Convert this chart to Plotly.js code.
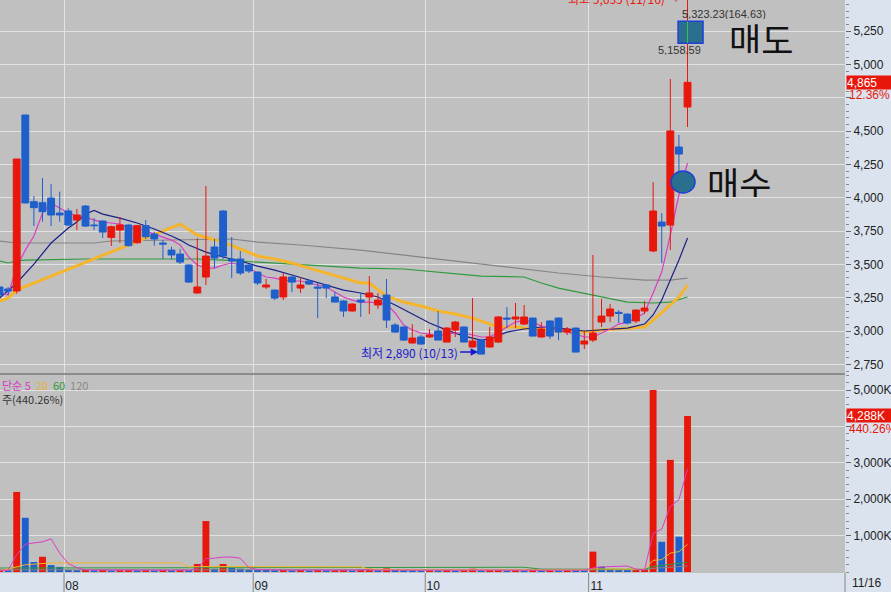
<!DOCTYPE html>
<html><head><meta charset="utf-8">
<script src="https://cdn.plot.ly/plotly-3.0.1.min.js"></script>
<style>html,body{margin:0;padding:0;background:#dae3ee;overflow:hidden}#chart{width:891px;height:592px}</style>
</head><body><div id="chart"></div>
<script>
// ---- price candles (daily, Aug–Nov 16) ----
const openP  = [3330,3315,3300,4620,3970,3962,3997,3885,3900,3832,3937,3795,3825,3702,3757,3795,3662,3790,3727,3660,3607,3577,3495,3285,3405,3630,3900,3540,3540,3495,3442,3330,3307,3255,3405,3322,3375,3330,3345,3255,3225,3150,3232,3255,3195,3270,3045,3030,2910,2955,2955,3000,2917,3007,3030,2880,2932,2880,2917,3097,3090,3052,3097,2955,3075,3097,2992,3022,2902,2932,3067,3112,3140,3127,3075,3150,3600,3817,3795,4380,4680];
const highP  = [3340,3330,4290,4620,4012,4147,4102,4045,3920,3915,3945,3847,3830,3790,3855,3800,3795,3832,3745,3682,3632,3615,3500,3697,4087,3690,3905,3705,3600,3500,3445,3390,3310,3435,3410,3405,3380,3360,3350,3292,3230,3210,3285,3412,3285,3390,3060,3035,3052,2970,3015,3150,3030,3075,3035,3247,2940,3030,3112,3180,3210,3195,3100,3067,3080,3100,3030,3025,3000,3570,3240,3202,3157,3130,3160,3225,4117,3885,4890,4470,5600];
const lowP   = [3262,3270,3280,3960,3787,3820,3787,3820,3790,3757,3780,3757,3697,3637,3660,3635,3655,3690,3640,3540,3537,3502,3360,3280,3345,3472,3540,3397,3420,3435,3345,3315,3232,3232,3292,3285,3345,3097,3247,3215,3105,3145,3105,3127,3165,3022,2985,2925,2905,2895,2947,2930,2915,2955,2915,2875,2825,2875,2910,3022,3022,3045,2960,2950,2940,2932,2970,2840,2865,2917,3030,3067,3060,3050,3060,3127,3592,3510,3607,4160,4530];
const closeP = [3270,3300,4290,3960,3925,3895,3870,3870,3795,3870,3787,3790,3742,3782,3795,3640,3790,3707,3690,3652,3570,3517,3367,3330,3562,3547,3562,3525,3435,3450,3360,3345,3247,3405,3367,3345,3352,3322,3322,3217,3150,3202,3217,3285,3232,3082,2992,2932,2947,2902,2970,2932,3022,3067,2917,2925,2827,2955,3105,3090,3105,3105,2962,3015,2962,2992,3015,2842,2925,2985,3112,3165,3132,3060,3157,3172,3900,3787,4500,4327,4865];
// volume (thousand shares)
const volume = [60,45,2200,1490,275,420,190,140,55,50,60,45,55,40,50,60,45,50,40,55,45,60,50,220,1400,90,220,110,90,70,60,55,50,60,45,55,40,60,45,50,60,45,70,90,50,100,60,50,45,40,50,45,55,40,50,90,45,50,60,45,55,40,50,45,55,40,50,45,40,560,145,70,60,55,65,70,5000,830,3080,970,4288];
// moving averages
const ma5  = [3290,3270,3480,3607,3712,3885,3960,3922,3885,3862,3855,3832,3817,3810,3802,3780,3765,3750,3727,3705,3682,3645,3555,3495,3472,3472,3495,3510,3495,3472,3435,3405,3397,3382,3375,3375,3360,3345,3330,3292,3255,3232,3217,3217,3210,3202,3135,3045,3007,2985,2977,2962,2977,2985,2985,2970,2955,2955,2992,3030,3067,3082,3067,3037,3022,3007,2992,2977,2955,2955,2985,3015,3052,3067,3097,3135,3285,3442,3720,4020,4260];
const ma10I = [0,2,4,6,8,9,10,11,12,14,16,18,20,21,22,24,26,28,30,32,34,36,38,40,42,44,46,48,50,52,54,56,57,59,61,63,65,68,70,73,75,76,77,78,79,80];
const ma10V = [3247,3360,3502,3660,3772,3817,3877,3905,3877,3847,3810,3765,3712,3682,3645,3592,3555,3525,3487,3457,3420,3382,3345,3307,3285,3255,3195,3127,3060,3007,2962,2932,2940,2992,3015,3030,3022,3000,3007,3022,3052,3120,3232,3382,3532,3697];
const ma20I = [0,1,2,21,23,26,28,30,32,34,36,38,40,42,43,45,47,49,51,53,55,57,58,60,62,65,68,70,72,74,75,76,77,78,79,80];
const ma20V = [3225,3247,3307,3802,3720,3667,3615,3562,3540,3510,3472,3435,3397,3360,3360,3262,3217,3187,3150,3127,3097,3052,3030,3030,3015,3000,2992,3007,3015,3022,3030,3082,3135,3195,3255,3345];
const ma60I = [0,1,2,3,10,23,26,30,35,42,47,51,56,61,63,65,69,73,76,78,80];
const ma60V = [3525,3510,3525,3532,3540,3540,3532,3517,3495,3472,3465,3442,3412,3405,3360,3322,3270,3217,3210,3217,3255];
const ma120I = [0,2,11,13,27,30,35,42,50,60,65,70,75,78,80];
const ma120V = [3675,3660,3660,3675,3690,3667,3645,3607,3547,3472,3435,3405,3382,3382,3397];
// volume moving averages (thousand shares)
const vma5I = [0,1,2,3,4,5,6,7,8,9,10,22,23,24,25,26,27,28,29,30,33,68,69,70,73,74,75,76,77,78,79,80];
const vma5V = [45,50,480,760,800,830,910,520,230,120,60,50,90,370,380,410,410,380,120,70,55,50,110,140,165,80,60,1060,1180,1800,1990,2830];
const vma20I = [0,2,3,6,21,22,23,28,42,43,48,68,69,75,76,77,78,79,80];
const vma20V = [30,140,200,250,250,140,150,150,140,80,60,60,85,75,320,340,520,560,760];
const vma60I = [0,20,40,61,63,68,75,76,78,80];
const vma60V = [110,120,130,130,80,70,75,150,200,270];
const vma120I = [0,40,75,76,80];
const vma120V = [60,60,60,100,165];
// axis labels
const monthFirst = [8,30,50,69];
const monthText = ['08','09','10','11'];
const priceTickVals = [2750,3000,3250,3500,3750,4000,4250,4500,4750,5000,5250,5500];
const priceTickText = ['2,750','3,000','3,250','3,500','3,750','4,000','4,250','4,500','','5,000','5,250','5,500'];
const volTickVals = [1000,2000,3000,4000,5000];
const volTickText = ['1,000K','2,000K','3,000K','','5,000K'];

const RED='#e8170c', BLUE='#1f5fcb';
const idx = closeP.map((_,i)=>i);
const volColors = volume.map((v,i)=> (i===0 || v>volume[i-1]) ? RED : BLUE);

function line(xs, ys, color, width, yax, z){
  return {type:'scatter', mode:'lines', x:xs, y:ys, xaxis:'x', yaxis:yax,
    line:{color:color, width:width}, hoverinfo:'skip', showlegend:false, zorder:z};
}
const data = [
  {type:'candlestick', x:idx, open:openP, high:highP, low:lowP, close:closeP, xaxis:'x', yaxis:'y',
   increasing:{line:{color:RED,width:1}, fillcolor:RED},
   decreasing:{line:{color:BLUE,width:1}, fillcolor:BLUE},
   whiskerwidth:0, hoverinfo:'skip', showlegend:false},
  {type:'bar', x:idx, y:volume, xaxis:'x', yaxis:'y2', width:0.8,
   marker:{color:volColors, line:{width:0}}, hoverinfo:'skip', showlegend:false},
  line(ma120I, ma120V, '#858585', 1.2, 'y', -1),
  line(ma60I, ma60V, '#2f9a3c', 1.2, 'y', -1),
  line(ma20I, ma20V, '#f4b52c', 3, 'y', -1),
  line(ma10I, ma10V, '#1b1f86', 1.2, 'y', -1),
  line(idx, ma5, '#dc3cc4', 1.2, 'y', -1),
  line(vma120I, vma120V, '#858585', 1, 'y2', 1),
  line(vma60I, vma60V, '#2f9a3c', 1, 'y2', 1),
  line(vma20I, vma20V, '#f0b52c', 1, 'y2', 1),
  line(vma5I, vma5V, '#dc3cc4', 1, 'y2', 1)
];

const SPLIT = (573-374)/573;
const tickFont = {family:'Liberation Sans, Arial, sans-serif', size:12, color:'#222'};
const kFont = 'Noto Sans CJK KR, sans-serif';
const monthPos = monthFirst.map(i=>i-0.5);

const shapes = [
  {type:'line', xref:'paper', yref:'paper', x0:0, x1:1, y0:SPLIT, y1:SPLIT, line:{color:'#8c8c8c', width:2}},
  {type:'rect', xref:'x', yref:'y', x0:78.9, x1:81.8, y0:5158.59, y1:5323.23, fillcolor:'#2b6f8f', line:{color:'#1e3fd8', width:1.5}, layer:'above'},
  {type:'line', xref:'x', yref:'y', x0:80, x1:80, y0:5158.59, y1:5323.23, line:{color:'#3cbf5a', width:1}, layer:'above'},
  {type:'circle', xref:'x', yref:'y', x0:78.08, x1:80.87, y0:4035, y1:4200, fillcolor:'#2b6f8f', line:{color:'#1e3fd8', width:1.5}, layer:'above'},
  {type:'line', xref:'paper', yref:'paper', x0:1, x1:1, y0:-0.04, y1:0, line:{color:'#888', width:1}}
].concat(monthPos.map(p=>({type:'line', xref:'x', yref:'paper', x0:p, x1:p, y0:-0.04, y1:0, line:{color:'#888', width:1}})));

const annotations = [
  {xref:'x', yref:'paper', x:79.3, y:1, yshift:2, xanchor:'right', yanchor:'middle', showarrow:false,
   text:'최고 5,635 (11/16) →', font:{family:kFont, size:12, color:RED}},
  {xref:'x', yref:'y', x:79.1, y:5380, xanchor:'left', yanchor:'middle', showarrow:false, height:11,
   text:'5,323.23(164.63)', font:{family:tickFont.family, size:11, color:'#333'}},
  {xref:'x', yref:'y', x:81.75, y:5115, xanchor:'right', yanchor:'middle', showarrow:false, height:11,
   text:'5,158.59', font:{family:tickFont.family, size:11, color:'#333'}},
  {xref:'x', yref:'y', x:84.7, y:5200, xanchor:'left', yanchor:'middle', showarrow:false, height:30, borderpad:0,
   text:'매도', font:{family:kFont, size:35, color:'#111'}},
  {xref:'x', yref:'y', x:82.15, y:4117, xanchor:'left', yanchor:'middle', showarrow:false, height:30, borderpad:0,
   text:'매수', font:{family:kFont, size:35, color:'#111'}},
  {xref:'x', yref:'y', x:55.65, y:2842, ax:-18, ay:0, axref:'pixel', ayref:'pixel', xanchor:'right', yanchor:'middle',
   showarrow:true, arrowhead:2, arrowsize:1, arrowwidth:1.5, arrowcolor:'#1a1acc',
   text:'최저 2,890 (10/13)', font:{family:kFont, size:12, color:'#1a1acc'}},
  {xref:'paper', yref:'paper', x:0, xshift:1, y:(573-376)/573, xanchor:'left', yanchor:'top', showarrow:false, align:'left', borderpad:0,
   text:'<span style="color:#d63cc3">단순 5</span>  <span style="color:#e8b030">20</span>  <span style="color:#2f9a3c">60</span>  <span style="color:#888">120</span><br><span style="color:#333">주(440.26%)</span>',
   font:{family:kFont, size:11, color:'#d63cc3'}},
  {xref:'paper', yref:'y', x:1, xshift:1, y:4865, xanchor:'left', yanchor:'middle', showarrow:false,
   text:'4,865', bgcolor:RED, width:44, height:13, align:'left', borderpad:0, font:{family:tickFont.family, size:12, color:'#fff'}},
  {xref:'paper', yref:'y', x:1, xshift:3, y:4777, xanchor:'left', yanchor:'middle', showarrow:false,
   text:'12.36%', height:11, borderpad:0, font:{family:tickFont.family, size:12, color:RED}},
  {xref:'paper', yref:'y2', x:1, xshift:1, y:4288, xanchor:'left', yanchor:'middle', showarrow:false,
   text:'4,288K', bgcolor:RED, width:44, height:13, align:'left', borderpad:0, font:{family:tickFont.family, size:12, color:'#fff'}},
  {xref:'paper', yref:'y2', x:1, xshift:3, y:3956, xanchor:'left', yanchor:'middle', showarrow:false,
   text:'440.26%', height:11, borderpad:0, font:{family:tickFont.family, size:12, color:RED}},
  {xref:'paper', yref:'paper', x:1, xshift:5, y:0, yshift:-1, xanchor:'left', yanchor:'top', showarrow:false,
   text:'11/16', font:tickFont}
];

const layout = {
  width:891, height:592,
  margin:{l:0, r:46, t:0, b:19, pad:0},
  paper_bgcolor:'#dae3ee', plot_bgcolor:'#c0c0c0',
  showlegend:false, boxgap:0.2, boxgroupgap:0, bargap:0.2,
  xaxis:{domain:[0,1], anchor:'y2', range:[0.058,98.31], tickvals:monthPos, ticktext:monthText,
    showgrid:true, gridcolor:'#e2e2e2', gridwidth:1, zeroline:false, showline:true, linecolor:'#8c8c8c', linewidth:2,
    ticks:'', ticklabelshift:8, ticklabelstandoff:1, tickfont:tickFont, rangeslider:{visible:false}, fixedrange:true},
  yaxis:{domain:[SPLIT,1], anchor:'x', side:'right', range:[2677.5,5482.5], tickvals:priceTickVals, ticktext:priceTickText,
    showgrid:true, gridcolor:'#e2e2e2', gridwidth:1, zeroline:false, showline:true, linecolor:'#8c8c8c',
    ticks:'outside', ticklen:5, tickcolor:'#666', tickfont:tickFont,
    minor:{dtick:50, tick0:0, ticks:'outside', ticklen:3, tickcolor:'#888', showgrid:false}, fixedrange:true},
  yaxis2:{domain:[0,SPLIT], anchor:'x', side:'right', range:[-27,5440], tickvals:volTickVals, ticktext:volTickText,
    showgrid:true, gridcolor:'#e2e2e2', gridwidth:1, zeroline:false, showline:true, linecolor:'#8c8c8c',
    ticks:'outside', ticklen:5, tickcolor:'#666', tickfont:tickFont,
    minor:{dtick:200, tick0:0, ticks:'outside', ticklen:3, tickcolor:'#888', showgrid:false}, fixedrange:true},
  shapes:shapes, annotations:annotations
};
Plotly.newPlot('chart', data, layout, {displayModeBar:false, staticPlot:true});
</script></body></html>
